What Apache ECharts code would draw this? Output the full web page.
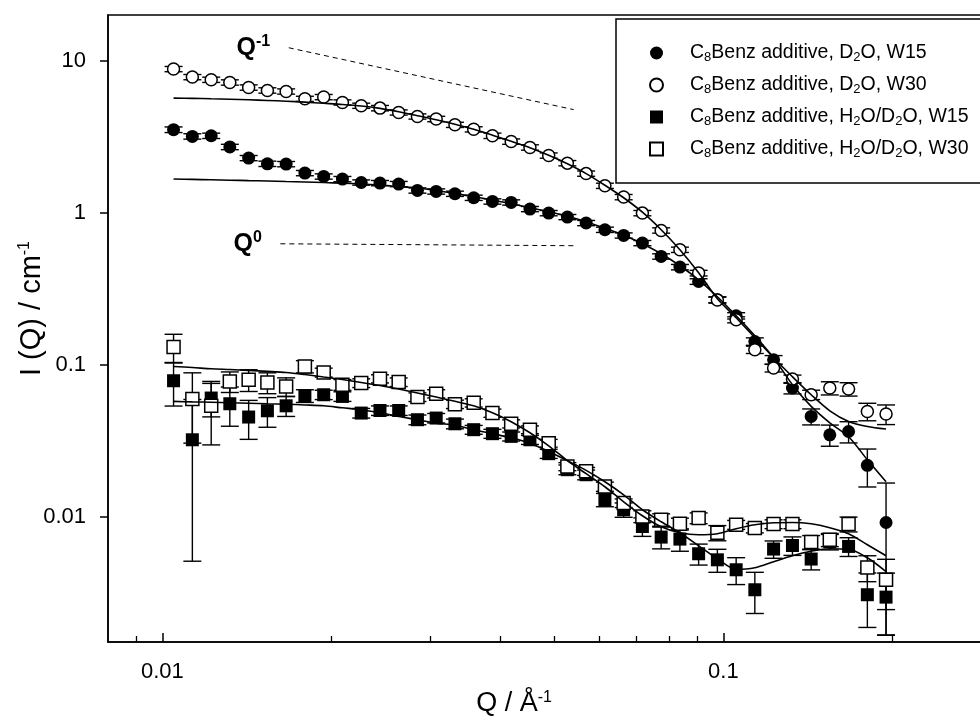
<!DOCTYPE html>
<html>
<head>
<meta charset="utf-8">
<title>SANS I(Q)</title>
<script src="https://cdn.jsdelivr.net/npm/echarts@6.0.0/dist/echarts.min.js"></script>
<style>
  html, body { margin: 0; padding: 0; background: #fff; }
  #chart { width: 980px; height: 720px; }
</style>
</head>
<body>
<div id="chart"></div>
<script>
// Q values (1/A) shared by all four data sets
const qValues = [0.01047, 0.01131, 0.01222, 0.01319, 0.01425, 0.01539, 0.01662, 0.01795, 0.01939, 0.02094,
  0.02262, 0.02443, 0.02638, 0.02849, 0.03077, 0.03323, 0.03589, 0.03876, 0.04186, 0.04521,
  0.04883, 0.05272, 0.05694, 0.06150, 0.06642, 0.07173, 0.07747, 0.08367, 0.09035, 0.09758,
  0.1054, 0.1138, 0.1229, 0.1328, 0.1434, 0.1548, 0.1672, 0.1806, 0.1950];

// D2O, W15 (filled circles)
const w15D = [3.52, 3.18, 3.21, 2.71, 2.29, 2.10, 2.09, 1.825, 1.733, 1.666,
  1.582, 1.568, 1.545, 1.402, 1.381, 1.334, 1.255, 1.187, 1.169, 1.058,
  0.995, 0.937, 0.856, 0.773, 0.709, 0.632, 0.516, 0.439, 0.353, 0.268,
  0.210, 0.1423, 0.1079, 0.0703, 0.0457, 0.0346, 0.0364, 0.0218, 0.00917];
const w15DErr = [0.15, 0.13, 0.13, 0.11, 0.09, 0.085, 0.084, 0.073, 0.069, 0.067,
  0.063, 0.063, 0.062, 0.056, 0.055, 0.053, 0.05, 0.048, 0.047, 0.042,
  0.04, 0.037, 0.034, 0.031, 0.028, 0.025, 0.021, 0.018, 0.015, 0.012,
  0.010, 0.008, 0.007, 0.006, 0.0055, 0.0055, 0.0058, 0.0061, 0.0075];
const w15DFit = [1.666, 1.658, 1.648, 1.638, 1.628, 1.619, 1.606, 1.594, 1.580, 1.566,
  1.547, 1.521, 1.492, 1.454, 1.400, 1.338, 1.274, 1.212, 1.146, 1.079,
  1.015, 0.948, 0.873, 0.791, 0.711, 0.625, 0.537, 0.448, 0.362, 0.280,
  0.210, 0.1551, 0.1112, 0.0739, 0.0532, 0.0415, 0.0336, 0.0237, 0.0170];

// D2O, W30 (open circles)
const w30D = [8.82, 7.81, 7.50, 7.20, 6.67, 6.38, 6.28, 5.62, 5.77, 5.32,
  5.06, 4.88, 4.57, 4.30, 4.14, 3.79, 3.54, 3.21, 2.94, 2.69,
  2.38, 2.12, 1.81, 1.505, 1.268, 0.995, 0.765, 0.571, 0.401, 0.2665,
  0.1977, 0.1256, 0.0951, 0.0805, 0.0635, 0.0703, 0.0692, 0.0493, 0.0474];
const w30DErr = [0.35, 0.31, 0.30, 0.29, 0.27, 0.26, 0.25, 0.22, 0.23, 0.21,
  0.20, 0.20, 0.18, 0.17, 0.17, 0.15, 0.14, 0.13, 0.12, 0.11,
  0.095, 0.085, 0.072, 0.06, 0.051, 0.04, 0.031, 0.023, 0.017, 0.012,
  0.009, 0.007, 0.0055, 0.005, 0.0045, 0.007, 0.007, 0.0065, 0.007];
const w30DFit = [5.68, 5.66, 5.62, 5.58, 5.54, 5.48, 5.42, 5.34, 5.25, 5.16,
  5.04, 4.86, 4.62, 4.35, 4.09, 3.82, 3.54, 3.24, 2.95, 2.68,
  2.39, 2.10, 1.81, 1.517, 1.255, 1.008, 0.773, 0.571, 0.403, 0.272,
  0.2038, 0.1505, 0.1112, 0.0834, 0.0635, 0.0498, 0.0424, 0.0393, 0.0378];

// H2O/D2O, W15 (filled squares)
const w15HD = [0.0785, 0.0321, 0.0604, 0.0554, 0.0453, 0.0498, 0.0537, 0.0625, 0.0635, 0.0619,
  0.0481, 0.0500, 0.0500, 0.0435, 0.0446, 0.0409, 0.0374, 0.0352, 0.0338, 0.0321,
  0.0260, 0.0204, 0.0189, 0.01294, 0.01112, 0.00863, 0.00735, 0.00713, 0.00571, 0.00521,
  0.00448, 0.00331, 0.00613, 0.00647, 0.00527, 0.00685, 0.00638, 0.00307, 0.00296];
const w15HDErr = [0.025, 0.027, 0.015, 0.016, 0.013, 0.011, 0.008, 0.006, 0.0045, 0.0045,
  0.0035, 0.0036, 0.0036, 0.0032, 0.0032, 0.003, 0.0025, 0.0024, 0.0023, 0.0022,
  0.0018, 0.0015, 0.0014, 0.0013, 0.0012, 0.0012, 0.0012, 0.0012, 0.0009, 0.0009,
  0.0009, 0.001, 0.0008, 0.0009, 0.0008, 0.0008, 0.0009, 0.0012, 0.0013];
const w15HDFit = [0.0574, 0.0570, 0.0567, 0.0562, 0.0558, 0.0554, 0.0550, 0.0544, 0.0537, 0.0521,
  0.0506, 0.0483, 0.0457, 0.0435, 0.0413, 0.0400, 0.0374, 0.0352, 0.0331, 0.0305,
  0.0269, 0.0234, 0.0202, 0.0170, 0.01395, 0.01112, 0.00927, 0.00785, 0.00644, 0.00529,
  0.00451, 0.00462, 0.00506, 0.00554, 0.00593, 0.00616, 0.00611, 0.00537, 0.00435];

// H2O/D2O, W30 (open squares)
const w30HD = [0.1307, 0.0595, 0.0537, 0.0777, 0.0797, 0.0765, 0.0720, 0.0974, 0.0890, 0.0739,
  0.0758, 0.0809, 0.0769, 0.0613, 0.0645, 0.0550, 0.0562, 0.0481, 0.0409, 0.0374,
  0.0305, 0.0214, 0.0199, 0.0158, 0.0123, 0.01005, 0.00956, 0.00899, 0.00980, 0.00785,
  0.00886, 0.00843, 0.00895, 0.00895, 0.00682, 0.00706, 0.00895, 0.00464, 0.00385];
const w30HDErr = [0.028, 0.029, 0.024, 0.012, 0.013, 0.012, 0.010, 0.009, 0.006, 0.006,
  0.005, 0.005, 0.005, 0.004, 0.004, 0.0035, 0.0035, 0.003, 0.0025, 0.0022,
  0.0018, 0.0013, 0.0012, 0.0011, 0.0008, 0.0009, 0.0009, 0.0008, 0.0008, 0.0009,
  0.0006, 0.0006, 0.0006, 0.0006, 0.0007, 0.0007, 0.001, 0.0009, 0.0014];
const w30HDFit = [0.0974, 0.0959, 0.0941, 0.0930, 0.0918, 0.0905, 0.0890, 0.0862, 0.0830, 0.0799,
  0.0765, 0.0730, 0.0692, 0.0652, 0.0613, 0.0575, 0.0537, 0.0483, 0.0422, 0.0357,
  0.0293, 0.0234, 0.0192, 0.01576, 0.01255, 0.01015, 0.00859, 0.00785, 0.00761, 0.00773,
  0.00834, 0.00886, 0.00913, 0.00917, 0.00899, 0.00847, 0.00773, 0.00654, 0.00554];

// slope guides
const slopeMinusOneQ = [0.0168, 0.0541];
const slopeMinusOneI = [12.18, 4.77];
const slopeZeroQ = [0.01623, 0.0541];
const slopeZeroI = [0.625, 0.607];

const xMajorTicks = [0.01, 0.1];
const xMinorTicks = [0.009, 0.02, 0.03, 0.04, 0.05, 0.06, 0.07, 0.08, 0.09, 0.2];
const yMajorTicks = [0.01, 0.1, 1, 10];

const names = {
  w15D: 'C8Benz additive, D2O, W15',
  w30D: 'C8Benz additive, D2O, W30',
  w15HD: 'C8Benz additive, H2O/D2O, W15',
  w30HD: 'C8Benz additive, H2O/D2O, W30',
};
const legendRich = {
  [names.w15D]: '{g| }{n|C}{s|8}{n|Benz additive, D}{s|2}{n|O, W15}',
  [names.w30D]: '{g| }{n|C}{s|8}{n|Benz additive, D}{s|2}{n|O, W30}',
  [names.w15HD]: '{g| }{n|C}{s|8}{n|Benz additive, H}{s|2}{n|O/D}{s|2}{n|O, W15}',
  [names.w30HD]: '{g| }{n|C}{s|8}{n|Benz additive, H}{s|2}{n|O/D}{s|2}{n|O, W30}',
};

const FONT = '"Liberation Sans", Arial, sans-serif';
const chart = echarts.init(document.getElementById('chart'));

function points(ys) {
  return qValues.map((q, i) => [q, ys[i]]);
}
function bars(ys, errs) {
  return qValues.map((q, i) => [q, Math.max(ys[i] - errs[i], 1e-4), ys[i] + errs[i]]);
}

function renderBar(params, api) {
  const top = api.coord([api.value(0), api.value(2)]);
  const bottom = api.coord([api.value(0), api.value(1)]);
  const half = 9;
  const style = { stroke: '#000', lineWidth: 1.4 };
  return {
    type: 'group',
    children: [
      { type: 'line', shape: { x1: top[0], y1: top[1], x2: bottom[0], y2: bottom[1] }, style },
      { type: 'line', shape: { x1: top[0] - half, y1: top[1], x2: top[0] + half, y2: top[1] }, style },
      { type: 'line', shape: { x1: bottom[0] - half, y1: bottom[1], x2: bottom[0] + half, y2: bottom[1] }, style },
    ],
  };
}

function barSeries(ys, errs) {
  return {
    type: 'custom',
    renderItem: renderBar,
    data: bars(ys, errs),
    encode: { x: 0, y: [1, 2] },
    clip: true,
    silent: true,
    z: 1,
  };
}

function fitSeries(ys) {
  return {
    type: 'line',
    data: points(ys),
    showSymbol: false,
    smooth: 0.3,
    lineStyle: { color: '#000', width: 1.6 },
    silent: true,
    z: 4,
  };
}

function dataSeries(name, ys, symbol, filled, size) {
  return {
    name,
    type: 'scatter',
    data: points(ys),
    symbol,
    symbolSize: size,
    itemStyle: filled
      ? { color: '#000', opacity: 1 }
      : { color: '#fff', borderColor: '#000', borderWidth: 1.5, opacity: 1 },
    z: 3,
  };
}

function guideSeries(qs, is, rich) {
  return {
    type: 'line',
    data: [
      {
        value: [qs[0], is[0]],
        label: {
          show: true,
          position: 'left',
          distance: 18,
          formatter: rich,
          rich: {
            q: { fontFamily: FONT, fontSize: 25, fontWeight: 'bold', color: '#000', lineHeight: 28 },
            p: { fontFamily: FONT, fontSize: 16, fontWeight: 'bold', color: '#000', lineHeight: 16, verticalAlign: 'top' },
          },
        },
      },
      [qs[1], is[1]],
    ],
    symbol: 'circle',
    symbolSize: 1,
    itemStyle: { color: 'rgba(0,0,0,0)' },
    lineStyle: { color: '#000', width: 1, type: [5, 4] },
    silent: true,
    z: 2,
  };
}

const axisText = { fontFamily: FONT, fontSize: 22, color: '#000' };
const supStyle = { fontFamily: FONT, fontSize: 16, color: '#000', verticalAlign: 'top', lineHeight: 14 };

chart.setOption({
  animation: false,
  backgroundColor: '#fff',
  grid: {
    left: 108, right: -11, top: 15, bottom: 78,
    outerBoundsMode: 'none',
    containLabel: false,
    show: true, borderColor: '#000', borderWidth: 1.5, backgroundColor: 'transparent',
  },
  legend: {
    orient: 'vertical',
    left: 616,
    top: 19,
    padding: [24, 40, 23, 33],
    itemWidth: 13,
    itemHeight: 13,
    itemGap: 11,
    selectedMode: false,
    borderColor: '#000',
    borderWidth: 1.5,
    backgroundColor: '#fff',
    data: [
      { name: names.w15D, icon: 'circle' },
      { name: names.w30D, icon: 'circle' },
      { name: names.w15HD, icon: 'rect' },
      { name: names.w30HD, icon: 'rect' },
    ],
    formatter: (name) => legendRich[name],
    textStyle: {
      fontFamily: FONT,
      fontSize: 19.5,
      color: '#000',
      rich: {
        g: { width: 22, fontSize: 19.5, lineHeight: 22 },
        n: { fontFamily: FONT, fontSize: 19.5, color: '#000', lineHeight: 22 },
        s: { fontFamily: FONT, fontSize: 13, color: '#000', lineHeight: 10, verticalAlign: 'bottom' },
      },
    },
  },
  xAxis: [
    {
      type: 'log',
      logBase: 10,
      min: 0.008,
      max: 0.3,
      position: 'bottom',
      name: 'Q / Å{p|-1}',
      nameLocation: 'middle',
      nameGap: 48,
      nameMoveOverlap: false,
      nameTextStyle: {
        fontFamily: FONT, fontSize: 27, color: '#000',
        padding: [0, 71, 0, 0],
        rich: { p: supStyle },
      },
      axisLine: { lineStyle: { color: '#000', width: 1.5 } },
      axisTick: { inside: true, length: 9, customValues: xMajorTicks, lineStyle: { color: '#000', width: 1.5 } },
      axisLabel: { ...axisText, margin: 19, customValues: xMajorTicks, formatter: (v) => String(+v.toPrecision(3)) },
      minorTick: { show: false },
      splitLine: { show: false },
    },
    {
      type: 'log',
      logBase: 10,
      min: 0.008,
      max: 0.3,
      position: 'bottom',
      axisLine: { show: false },
      axisTick: { inside: true, length: 6, customValues: xMinorTicks, lineStyle: { color: '#000', width: 1.3 } },
      axisLabel: { show: false },
      splitLine: { show: false },
    },
  ],
  yAxis: {
    type: 'log',
    logBase: 10,
    min: 0.0015,
    max: 20,
    name: 'I (Q) / cm{p|-1}',
    nameLocation: 'middle',
    nameGap: 62,
    nameMoveOverlap: false,
    nameTextStyle: {
      fontFamily: FONT, fontSize: 29, color: '#000',
      padding: [0, 0, 0, 40],
      rich: { p: supStyle },
    },
    axisLine: { lineStyle: { color: '#000', width: 1.5 } },
    axisTick: { inside: false, length: 8, customValues: yMajorTicks, lineStyle: { color: '#000', width: 1.5 } },
    axisLabel: { ...axisText, margin: 22, customValues: yMajorTicks, formatter: (v) => String(+v.toPrecision(3)) },
    splitLine: { show: false },
  },
  series: [
    barSeries(w15D, w15DErr),
    barSeries(w30D, w30DErr),
    barSeries(w15HD, w15HDErr),
    barSeries(w30HD, w30HDErr),
    dataSeries(names.w15D, w15D, 'circle', true, 13),
    dataSeries(names.w30D, w30D, 'circle', false, 12),
    dataSeries(names.w15HD, w15HD, 'rect', true, 13),
    dataSeries(names.w30HD, w30HD, 'rect', false, 13),
    fitSeries(w15DFit),
    fitSeries(w30DFit),
    fitSeries(w15HDFit),
    fitSeries(w30HDFit),
    guideSeries(slopeMinusOneQ, slopeMinusOneI, '{q|Q}{p|-1}'),
    guideSeries(slopeZeroQ, slopeZeroI, '{q|Q}{p|0}'),
  ],
});
</script>
</body>
</html>
